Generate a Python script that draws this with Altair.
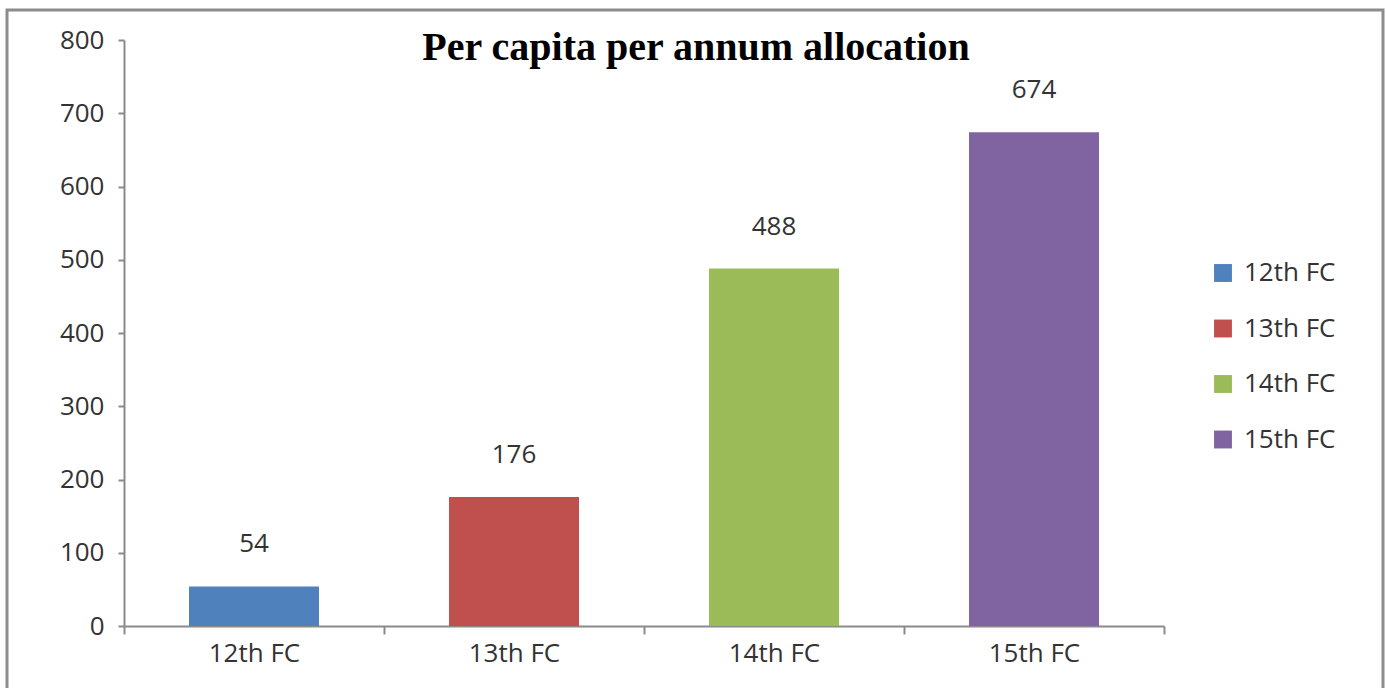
import altair as alt
import pandas as pd

categories = ["12th FC", "13th FC", "14th FC", "15th FC"]
values = [54, 176, 488, 674]
colors = ["#4F81BD", "#C0504D", "#9BBB59", "#8064A2"]
y_ticks = [0, 100, 200, 300, 400, 500, 600, 700, 800]
title_text = ["Per capita per annum allocation"]

df = pd.DataFrame({"cat": categories, "val": values})
tdf = pd.DataFrame({"t": title_text})

LBL = "Open Sans"
FS = 26

x = alt.X("cat:N", sort=categories, title=None,
          scale=alt.Scale(paddingInner=0, paddingOuter=0),
          axis=alt.Axis(labelAngle=0, labelFont=LBL, labelFontSize=FS, labelColor="#333333",
                        domainColor="#8a8a8a", domainWidth=2, tickColor="#8a8a8a", tickWidth=2,
                        tickSize=8, tickBand="extent", labelPadding=6))
y = alt.Y("val:Q", title=None,
          scale=alt.Scale(domain=[0, 800], nice=False),
          axis=alt.Axis(values=y_ticks, grid=False, labelFont=LBL, labelFontSize=FS,
                        labelColor="#333333", domainColor="#8a8a8a", domainWidth=2,
                        tickColor="#8a8a8a", tickWidth=2, tickSize=6, labelPadding=14))

bars = alt.Chart(df).mark_bar(width=alt.RelativeBandSize(0.5)).encode(
    x=x, y=y,
    color=alt.Color("cat:N", sort=categories, title=None,
                    scale=alt.Scale(domain=categories, range=colors),
                    legend=alt.Legend(orient="none", legendX=1086, legendY=220,
                                      symbolType="square", symbolSize=320,
                                      symbolStrokeWidth=0, labelFont=LBL,
                                      labelFontSize=FS, labelColor="#333333",
                                      rowPadding=29.5, labelOffset=8)),
)

labels = alt.Chart(df).mark_text(font=LBL, fontSize=FS, color="#333333",
                                 baseline="middle", dy=-42).encode(
    x=alt.X("cat:N", sort=categories), y="val:Q", text="val:Q")

title = alt.Chart(tdf).mark_text(font="Liberation Serif", fontSize=40, fontWeight="bold",
                                 color="#000000", align="center",
                                 baseline="alphabetic").encode(
    x=alt.value(572), y=alt.value(20), text="t:N")

border = alt.Chart(tdf).mark_rect(fill=None, stroke="#8c8c8c", strokeWidth=3).encode(
    x=alt.value(-117), x2=alt.value(1259), y=alt.value(-30), y2=alt.value(660))

chart = alt.layer(border, bars, labels, title).properties(
    width=1040, height=586,
    padding={"left": 124, "top": 40, "right": 222, "bottom": 62},
    autosize=alt.AutoSizeParams(type="none"),
    background="white",
).configure_view(stroke=None)

chart.save("out.html", embed_options={"renderer": "svg", "actions": False})
